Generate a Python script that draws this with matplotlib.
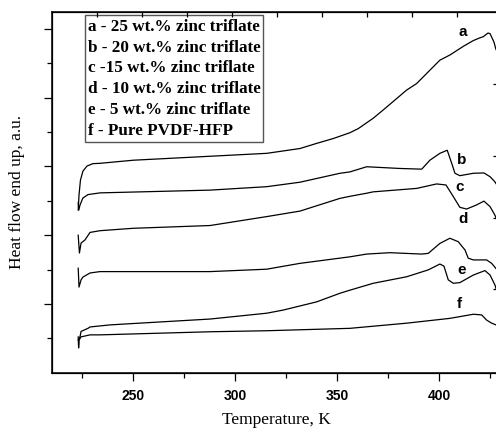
import matplotlib
matplotlib.use('Agg')
import matplotlib.pyplot as plt
from matplotlib.patches import Rectangle

# DSC traces (temperature in K, heat flow in arbitrary units)
T_a = [223.0, 223.4, 224.1, 225.3, 227.3, 230.2, 233.7, 250.0, 266.4, 282.7, 315.4, 331.7,
       339.9, 348.0, 356.2, 360.3, 367.6, 372.5, 384.0, 388.9, 400.3, 405.2, 412.0, 416.7,
       419.9, 421.5, 423.9, 424.9, 426.8, 427.8]
y_a = [4.73, 5.17, 5.60, 5.86, 6.01, 6.08, 6.09, 6.18, 6.23, 6.28, 6.38, 6.52,
       6.67, 6.81, 6.98, 7.10, 7.40, 7.64, 8.22, 8.41, 9.09, 9.24, 9.50, 9.66,
       9.74, 9.77, 9.88, 9.86, 9.62, 9.40]

T_b = [223.0, 223.3, 223.9, 225.3, 227.8, 233.7, 287.6, 315.4, 331.7, 351.3, 356.2, 364.4,
       370.9, 380.7, 391.4, 395.4, 400.3, 403.9, 406.1, 407.7, 410.1, 416.7, 421.9, 424.9,
       427.3, 427.8]
y_b = [4.95, 4.73, 4.88, 5.08, 5.18, 5.23, 5.31, 5.41, 5.54, 5.80, 5.84, 5.99,
       5.97, 5.94, 5.92, 6.18, 6.38, 6.47, 6.09, 5.80, 5.73, 5.80, 5.81, 5.70,
       5.55, 5.50]

T_c = [223.0, 223.6, 224.4, 226.3, 228.8, 233.7, 250.0, 287.6, 315.4, 331.7, 351.3, 356.2,
       364.4, 367.6, 388.9, 398.7, 403.3, 406.9, 410.1, 413.4, 418.3, 421.9, 424.9, 427.3,
       427.8]
y_c = [4.00, 3.48, 3.77, 3.86, 4.08, 4.13, 4.20, 4.28, 4.54, 4.70, 5.07, 5.13,
       5.22, 5.26, 5.36, 5.49, 5.46, 5.12, 4.81, 4.76, 4.88, 4.99, 4.83, 4.58,
       4.50]

T_d = [223.0, 223.4, 224.4, 225.3, 228.8, 233.7, 287.6, 315.4, 331.7, 356.2, 364.4, 375.8,
       391.4, 394.6, 400.3, 405.2, 409.3, 412.6, 414.2, 416.7, 423.2, 425.7, 427.8]
y_d = [3.04, 2.49, 2.70, 2.78, 2.90, 2.94, 2.94, 3.01, 3.18, 3.37, 3.45, 3.49,
       3.45, 3.47, 3.76, 3.91, 3.81, 3.57, 3.33, 3.28, 3.28, 3.18, 3.03]

T_e = [223.0, 223.9, 224.4, 227.8, 228.8, 238.6, 250.0, 287.6, 315.4, 323.4, 339.9, 351.3,
       356.2, 367.6, 384.0, 394.6, 400.3, 402.3, 404.4, 406.9, 410.1, 416.7, 422.4, 424.9,
       427.3, 427.8]
y_e = [0.95, 1.05, 1.20, 1.29, 1.33, 1.39, 1.43, 1.56, 1.73, 1.82, 2.06, 2.31,
       2.40, 2.60, 2.79, 2.99, 3.16, 3.10, 2.70, 2.60, 2.62, 2.84, 2.97, 2.84,
       2.55, 2.45]

T_f = [223.0, 223.2, 223.5, 224.3, 228.8, 233.7, 287.6, 315.4, 356.2, 384.0, 405.2, 416.7,
       420.8, 423.2, 425.7, 427.8]
y_f = [1.04, 0.72, 0.95, 1.04, 1.10, 1.10, 1.19, 1.22, 1.29, 1.44, 1.58, 1.70,
       1.68, 1.53, 1.44, 1.39]

curve_labels = ['a', 'b', 'c', 'd', 'e', 'f']
label_T = [411.6, 411.0, 410.1, 411.6, 411.0, 409.6]
label_y = [9.90, 6.18, 5.41, 4.46, 2.98, 2.00]

legend_lines = ['a - 25 wt.% zinc triflate',
                'b - 20 wt.% zinc triflate',
                'c -15 wt.% zinc triflate',
                'd - 10 wt.% zinc triflate',
                'e - 5 wt.% zinc triflate',
                'f - Pure PVDF-HFP']

top_ticks = [232.1, 254.1, 276.2, 298.2, 320.3, 342.4, 364.4, 386.5, 408.6]
right_ticks = [8.39, 6.30, 4.49, 2.42]

fig = plt.figure(figsize=(4.96, 4.30), dpi=100)
ax = fig.add_axes([0.1042, 0.1333, 0.9048, 0.8395])

for T, y in [(T_a, y_a), (T_b, y_b), (T_c, y_c), (T_d, y_d), (T_e, y_e), (T_f, y_f)]:
    ax.plot(T, y, color='black', lw=0.9, solid_joinstyle='round')

for lab, lt, ly in zip(curve_labels, label_T, label_y):
    ax.text(lt, ly, lab, ha='center', va='center', fontsize=11,
            fontweight='bold', family='Liberation Sans')

ax.set_xlim(210, 430)
ax.set_ylim(0, 10.5)
ax.set_xticks([250, 300, 350, 400])
ax.set_xticks([225, 275, 325, 375, 425], minor=True)
ax.set_yticks([2, 4, 6, 8, 10])
ax.set_yticks([1, 3, 5, 7, 9], minor=True)
ax.set_yticklabels([])
ax.tick_params(which='major', direction='out', length=6, width=0.9)
ax.tick_params(which='minor', direction='out', length=3.5, width=0.9)
for lab in ax.get_xticklabels():
    lab.set_fontweight('bold')
    lab.set_fontsize(10)
    lab.set_family('Liberation Sans')
ax.tick_params(axis='x', pad=6)
for s in ax.spines.values():
    s.set_linewidth(1.1)

ax_top = ax.twiny()
ax_top.set_xlim(210, 430)
ax_top.set_xticks(top_ticks)
ax_top.tick_params(axis='x', direction='in', length=3.5, width=0.9, labeltop=False)

ax_r = ax.twinx()
ax_r.set_ylim(0, 10.5)
ax_r.set_yticks(right_ticks)
ax_r.tick_params(axis='y', direction='in', length=5, width=0.9, labelright=False)

ax.set_xlabel('Temperature, K', family='Liberation Serif', fontsize=12.5, labelpad=6)
ax.set_ylabel('Heat flow end up, a.u.', family='Liberation Serif', fontsize=12.5, labelpad=10)

# legend box drawn as text lines in a rectangle
ax.add_patch(Rectangle((0.0742, 0.6399), 0.3973, 0.3510, transform=ax.transAxes,
                       fill=False, edgecolor='#555555', lw=1.0, zorder=5))
for i, line in enumerate(legend_lines):
    ax.text(0.0812, 0.958 - i * 0.0575, line, transform=ax.transAxes, ha='left', va='center',
            fontsize=12.3, fontweight='bold', family='Liberation Serif')

fig.savefig('out.png', dpi=100)
